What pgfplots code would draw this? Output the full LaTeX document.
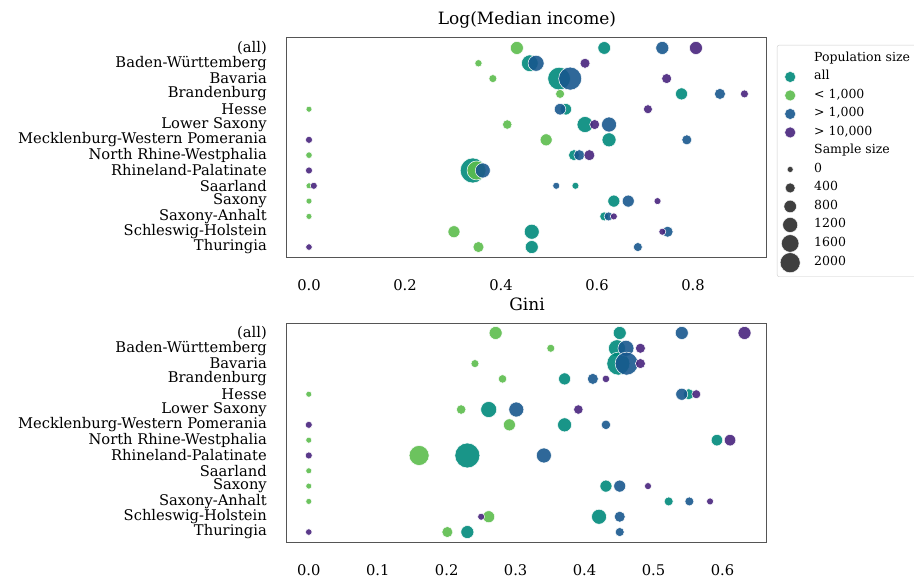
\documentclass[border=0pt]{standalone}
\usepackage{fontspec}
\setmainfont{DejaVu Serif}
\usepackage{pgfplots}
\pgfplotsset{compat=1.18}
\usepackage{pgfplotstable}

\definecolor{cAll}{HTML}{008A7B}
\definecolor{cLow}{HTML}{5CBC4D}
\definecolor{cMid}{HTML}{18588E}
\definecolor{cHigh}{HTML}{48247D}
\definecolor{cSize}{HTML}{3F3F3F}
\definecolor{frame}{HTML}{555555}

% columns: x = value, y = row index (0 = (all)), d = marker diameter
\pgfplotstableread{
x y d
0.615 0 12.7
0.460 1 16.7
0.521 2 22.7
0.776 3 12
0.535 4 11.5
0.575 5 16
0.625 6 14
0.552 7 11
0.341 8 25
0.555 9 7
0.635 10 12
0.615 11 9
0.464 12 15
0.464 13 13
}\topAll
\pgfplotstableread{
x y d
0.433 0 13
0.353 1 7.3
0.383 2 8
0.523 3 9
0.000 4 6
0.413 5 9.5
0.494 6 12
0.000 7 6.5
0.349 8 19
0.000 9 6
0.000 10 6
0.000 11 6
0.302 12 12
0.353 13 11
}\topLow
\pgfplotstableread{
x y d
0.736 0 13
0.473 1 16
0.544 2 23
0.856 3 11
0.523 4 11.5
0.625 5 15
0.787 6 10
0.563 7 11
0.362 8 15
0.515 9 7
0.665 10 12
0.624 11 9
0.747 12 11
0.685 13 9
}\topMid
\pgfplotstableread{
x y d
0.806 0 13
0.575 1 10
0.745 2 10
0.907 3 8
0.706 4 9
0.595 5 10
0.000 6 7
0.584 7 11
0.000 8 7
0.010 9 7
0.726 10 7
0.635 11 7
0.736 12 7
0.000 13 6.5
}\topHigh

\pgfplotstableread{
x y d
0.451 0 13
0.447 1 17
0.449 2 23
0.371 3 12
0.551 4 11
0.261 5 16
0.371 6 14
0.592 7 11.5
0.230 8 25
0.431 10 12
0.522 11 9
0.421 12 15
0.230 13 13
}\botAll
\pgfplotstableread{
x y d
0.271 0 13
0.351 1 8
0.241 2 8
0.281 3 8.5
0.000 4 6
0.221 5 9.5
0.291 6 12
0.000 7 6
0.160 8 20
0.000 9 6
0.000 10 6
0.000 11 6
0.261 12 12
0.201 13 11
}\botLow
\pgfplotstableread{
x y d
0.541 0 13
0.460 1 16
0.461 2 23
0.412 3 11
0.541 4 12
0.301 5 15
0.431 6 9.5
0.341 8 15
0.451 10 12
0.552 11 9
0.451 12 11
0.451 13 9
}\botMid
\pgfplotstableread{
x y d
0.632 0 13
0.481 1 10
0.481 2 10
0.431 3 7.5
0.562 4 9
0.391 5 9.5
0.000 6 7
0.611 7 11.5
0.000 8 7
0.492 10 7
0.582 11 7
0.250 12 7
0.000 13 6.5
}\botHigh

\pgfplotsset{
  dot/.style={scatter, only marks, mark=*, forget plot,
    scatter/use mapped color={draw=white, fill=#1},
    line width=0.5pt, fill opacity=0.9,
    visualization depends on={\thisrow{d}/2 \as \perpointmarksize},
    scatter/@pre marker code/.append style={/tikz/mark size=\perpointmarksize}},
  base/.style={
    scale only axis, width=480pt, height=219pt,
    y dir=reverse, ymin=-0.65, ymax=13.65,
    ytick={0,...,13},
    yticklabels={(all),Baden-Württemberg,Bavaria,Brandenburg,Hesse,Lower Saxony,Mecklenburg-Western Pomerania,North Rhine-Westphalia,Rhineland-Palatinate,Saarland,Saxony,Saxony-Anhalt,Schleswig-Holstein,Thuringia},
    major tick length=0pt,
    axis line style={draw=frame, line width=1pt},
    tick label style={font=\fontsize{14.7}{16}\selectfont, inner sep=0pt},
    yticklabel style={anchor=east, xshift=-20pt},
    xticklabel style={anchor=north, yshift=-22pt},
    /pgf/number format/assume math mode=true,
    xticklabel={\pgfmathprintnumber[fixed, fixed zerofill, precision=1]{\tick}},
    title style={at={(0.5,1)}, anchor=base, yshift=7pt, font=\fontsize{17}{19}\selectfont, inner sep=0pt},
  }
}

\begin{document}
\begin{tikzpicture}
\begin{axis}[base, at={(287pt,322pt)}, anchor=south west,
  title={Log(Median income)},
  xmin=-0.0458, xmax=0.954, xtick={0,0.2,0.4,0.6,0.8},
  legend cell align=left,
  legend style={at={(1,1)}, anchor=north west, xshift=10pt, yshift=-7pt,
    draw=black!20, rounded corners=2pt, inner xsep=3pt, inner ysep=4pt,
    column sep=14pt, row sep=0pt,
    font=\fontsize{12.5}{14}\selectfont,
    nodes={inner sep=0pt, text height=12pt, text depth=6.5pt}},
  legend image code/.code={\draw[#1] plot coordinates {(0pt,0pt)};},
]
\addplot[dot=cAll] table[x=x,y=y] {\topAll};
\addplot[dot=cLow] table[x=x,y=y] {\topLow};
\addplot[dot=cMid] table[x=x,y=y] {\topMid};
\addplot[dot=cHigh] table[x=x,y=y] {\topHigh};
\addlegendimage{empty legend}\addlegendentry{Population size\rule{14pt}{0pt}}
\addlegendimage{only marks, mark=*, mark size=5.5pt, fill=cAll, draw=white, fill opacity=0.9}\addlegendentry{all}
\addlegendimage{only marks, mark=*, mark size=5.5pt, fill=cLow, draw=white, fill opacity=0.9}\addlegendentry{< 1,000}
\addlegendimage{only marks, mark=*, mark size=5.5pt, fill=cMid, draw=white, fill opacity=0.9}\addlegendentry{> 1,000}
\addlegendimage{only marks, mark=*, mark size=5.5pt, fill=cHigh, draw=white, fill opacity=0.9}\addlegendentry{> 10,000}
\addlegendimage{empty legend}\addlegendentry{Sample size}
\addlegendimage{only marks, mark=*, mark size=3pt, fill=cSize, draw=white}\addlegendentry{0}
\addlegendimage{only marks, mark=*, mark size=5pt, fill=cSize, draw=white}\addlegendentry{400}
\addlegendimage{only marks, mark=*, mark size=6.25pt, fill=cSize, draw=white}\addlegendentry{800}
\addlegendimage{only marks, mark=*, mark size=7.5pt, fill=cSize, draw=white}\addlegendentry{1200}
\addlegendimage{only marks, mark=*, mark size=8.75pt, fill=cSize, draw=white}\addlegendentry{1600}
\addlegendimage{only marks, mark=*, mark size=10pt, fill=cSize, draw=white}\addlegendentry{2000}
\end{axis}
\begin{axis}[base, at={(287pt,37pt)}, anchor=south west,
  title={Gini},
  xmin=-0.0316, xmax=0.6646, xtick={0,0.1,0.2,0.3,0.4,0.5,0.6},
]
\addplot[dot=cAll] table[x=x,y=y] {\botAll};
\addplot[dot=cLow] table[x=x,y=y] {\botLow};
\addplot[dot=cMid] table[x=x,y=y] {\botMid};
\addplot[dot=cHigh] table[x=x,y=y] {\botHigh};
\end{axis}
\pgfresetboundingbox
\path[use as bounding box] (0pt,0pt) rectangle (914pt,579pt);
\end{tikzpicture}
\end{document}
